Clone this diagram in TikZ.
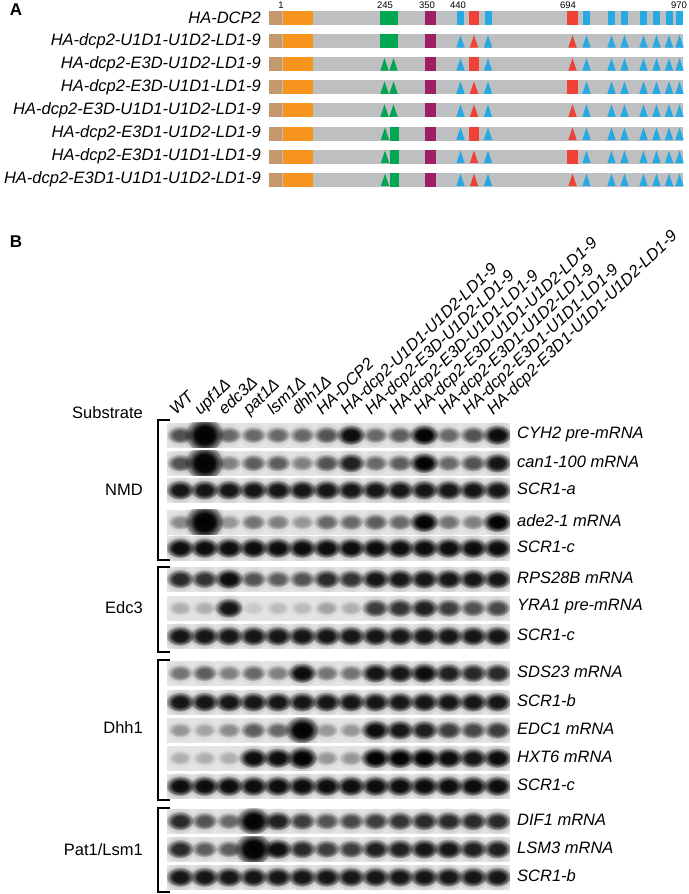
\documentclass[tikz,border=0pt]{standalone}
\usepackage{fontspec}
\setmainfont{Liberation Sans}
\usetikzlibrary{fadings}
\definecolor{domtan}{RGB}{196,152,108}
\definecolor{domorange}{RGB}{247,148,29}
\definecolor{domgray}{RGB}{190,191,193}
\definecolor{domgreen}{RGB}{0,166,81}
\definecolor{dommagenta}{RGB}{158,31,99}
\definecolor{domblue}{RGB}{39,170,225}
\definecolor{domred}{RGB}{239,65,54}
\definecolor{blotbg}{RGB}{228,228,228}

% soft fading for the blot bands (white = opaque, fitted 2cm box)
\pgfdeclareradialshading{bandshade}{\pgfpoint{0bp}{0bp}}{rgb(0bp)=(1,1,1); rgb(13bp)=(0.95,0.95,0.95); rgb(21bp)=(0.4,0.4,0.4); rgb(28bp)=(0,0,0); rgb(50bp)=(0,0,0)}
\pgfdeclarefading{bandfade}{\pgfuseshading{bandshade}}

% site marks on the domain bars: x, y, colour
\newcommand{\sitetri}[3]{\fill[#3] ({#1-4.2},{#2+6.5}) -- ({#1+4.2},{#2+6.5}) -- (#1,{#2-6}) -- cycle;}
\newcommand{\sitebox}[4]{\fill[#4] ({#1-#3/2},{#2-7}) rectangle ({#1+#3/2},{#2+7});}

% one blot band: x, y, value (above 1 = saturated and larger)
\newcommand{\blotband}[3]{%
  \pgfmathsetmacro\bandv{min(1,#3)}%
  \pgfmathsetmacro\bands{max(1,#3)}%
  \pgfmathsetmacro\bandop{0.2*\bandv}%
  \pgfmathsetmacro\bandrx{(13+3*\bandv)*\bands}%
  \pgfmathsetmacro\bandry{(10+4*\bandv)*\bands*\bands}%
  \fill[black, opacity=\bandop, path fading=bandfade] (#1,#2) ellipse [x radius=\bandrx, y radius=\bandry];
  \pgfmathsetmacro\bandrx{(9+3.5*\bandv)*\bands*1.15}%
  \pgfmathsetmacro\bandry{(6+4*\bandv)*\bands*\bands}%
  \fill[black, opacity=\bandv, path fading=bandfade] (#1,#2) ellipse [x radius=\bandrx, y radius=\bandry];
}

% one blot strip: name, y, label, band values for the 14 lanes
\newcommand{\blotrow}[4]{%
  \fill[blotbg] (167,{#2-12.5}) rectangle (510,{#2+12.5});
  \begin{scope}
    \clip (167,{#2-12.5}) rectangle (510,{#2+12.5});
    \foreach \v [count=\i] in {#4} {
      \pgfmathsetmacro\xx{180+(\i-1)*24.4}
      \blotband{\xx}{#2}{\v}
    }
  \end{scope}
  \node[genelabel] (#1) at (517,{#2-1}) {#3};
}

\begin{document}
\begin{tikzpicture}[x=1pt, y=-1pt,
    panellabel/.style={font=\fontsize{17}{19}\selectfont\bfseries, inner sep=0pt},
    construct/.style={anchor=east, inner sep=0pt, font=\fontsize{16.5}{18}\selectfont\itshape},
    poslabel/.style={inner sep=0pt, font=\fontsize{9.5}{10}\selectfont},
    lanelabel/.style={anchor=base west, rotate=44, inner sep=0pt, font=\fontsize{16.5}{18}\selectfont\itshape},
    genelabel/.style={anchor=west, inner sep=0pt, font=\fontsize{16.5}{18}\selectfont\itshape},
    grouplabel/.style={anchor=east, inner sep=0pt, font=\fontsize{16.5}{18}\selectfont},
    bracket/.style={line width=1.3pt}
]
\useasboundingbox (0,0) rectangle (688,894);

% Panel A: domain maps
\node[panellabel] (pa) at (16,10) {A};

\node[poslabel] (p1) at (281,5) {1};
\node[poslabel] (p245) at (385,5) {245};
\node[poslabel] (p350) at (427,5) {350};
\node[poslabel] (p440) at (458,5) {440};
\node[poslabel] (p694) at (568,5) {694};
\node[poslabel] (p970) at (679,5) {970};

\foreach \lbl/\g/\ua/\ub/\ld [count=\r] in {
    HA-DCP2/0/0/0/0,
    HA-dcp2-U1D1-U1D2-LD1-9/0/1/1/1,
    HA-dcp2-E3D-U1D2-LD1-9/1/0/1/1,
    HA-dcp2-E3D-U1D1-LD1-9/1/1/0/1,
    HA-dcp2-E3D-U1D1-U1D2-LD1-9/1/1/1/1,
    HA-dcp2-E3D1-U1D2-LD1-9/2/0/1/1,
    HA-dcp2-E3D1-U1D1-LD1-9/2/1/0/1,
    HA-dcp2-E3D1-U1D1-U1D2-LD1-9/2/1/1/1}
{
  \pgfmathsetmacro\yy{18+(\r-1)*23.1}
  \node[construct] (a\r) at (261,\yy) {\lbl};
  \fill[domgray] (269,{\yy-7}) rectangle (683,{\yy+7});
  \fill[domtan] (269,{\yy-7}) rectangle (281.5,{\yy+7});
  \fill[domorange] (282.5,{\yy-7}) rectangle (313,{\yy+7});
  \fill[dommagenta] (425,{\yy-7}) rectangle (436,{\yy+7});
  % E3 motif
  \ifnum\g=0 \sitebox{389}{\yy}{18}{domgreen}\fi
  \ifnum\g=1 \sitetri{384.5}{\yy}{domgreen}\sitetri{393.5}{\yy}{domgreen}\fi
  \ifnum\g=2 \sitetri{385}{\yy}{domgreen}\sitebox{394}{\yy}{9}{domgreen}\fi
  % U1D1 and U1D2
  \ifnum\ua=0 \sitebox{474}{\yy}{10}{domred}\else \sitetri{474}{\yy}{domred}\fi
  \ifnum\ub=0 \sitebox{572.5}{\yy}{11}{domred}\else \sitetri{572.5}{\yy}{domred}\fi
  % LD1-9
  \foreach \bx in {460.5,488,586.5,611.5,624.5,643.5,656.5,669,679.5} {
    \ifnum\ld=0 \sitebox{\bx}{\yy}{7}{domblue}\else \sitetri{\bx}{\yy}{domblue}\fi
  }
}

% Panel B: northern blots
\node[panellabel] (pb) at (16,242) {B};

\foreach \name [count=\i] in {WT,upf1Δ,edc3Δ,pat1Δ,lsm1Δ,dhh1Δ,HA-DCP2,
    HA-dcp2-U1D1-U1D2-LD1-9,HA-dcp2-E3D-U1D2-LD1-9,HA-dcp2-E3D-U1D1-LD1-9,
    HA-dcp2-E3D-U1D1-U1D2-LD1-9,HA-dcp2-E3D1-U1D2-LD1-9,HA-dcp2-E3D1-U1D1-LD1-9,
    HA-dcp2-E3D1-U1D1-U1D2-LD1-9}
  \node[lanelabel] (l\i) at ({176+(\i-1)*24.4},416) {\name};

\node[grouplabel] (sub) at (143,413) {Substrate};

% NMD
\blotrow{cyh}{435}{CYH2 pre-mRNA}{.6,1.3,.5,.5,.5,.5,.6,.95,.5,.55,1,.5,.6,.95}
\blotrow{can}{463}{can1-100 mRNA}{.6,1.3,.4,.55,.55,.4,.6,.85,.5,.55,1,.5,.6,.9}
\blotrow{scra}{490}{SCR1-a}{.9,.9,.9,.9,.9,.9,.9,.9,.9,.9,.9,.9,.9,.9}
\blotrow{ade}{522}{ade2-1 mRNA}{.35,1.3,.3,.45,.4,.3,.5,.5,.55,.5,1,.45,.4,1}
\blotrow{scrc1}{548}{SCR1-c}{.95,.95,.95,.95,.95,.95,.95,.95,.95,.95,.95,.95,.95,.95}
\node[grouplabel] (nmd) at (143,490) {NMD};
\draw[bracket] (170,420) -- (158,420) -- (158,560) -- (170,560);

% Edc3
\blotrow{rps}{579}{RPS28B mRNA}{.8,.75,.95,.6,.55,.6,.8,.75,.9,.9,.9,.9,.9,.9}
\blotrow{yra}{608}{YRA1 pre-mRNA}{.2,.2,.9,.1,.15,.15,.25,.2,.7,.75,.85,.7,.6,.65}
\blotrow{scrc2}{636}{SCR1-c}{.9,.9,.9,.9,.9,.9,.9,.9,.9,.9,.9,.9,.9,.9}
\node[grouplabel] (edc) at (143,608) {Edc3};
\draw[bracket] (170,567) -- (158,567) -- (158,652) -- (170,652);

% Dhh1
\blotrow{sds}{673}{SDS23 mRNA}{.45,.55,.4,.5,.4,.95,.45,.45,.9,.9,.95,.85,.8,.8}
\blotrow{scrb1}{702}{SCR1-b}{.9,.9,.9,.9,.9,.9,.9,.9,.9,.9,.9,.9,.9,.9}
\blotrow{edcone}{730}{EDC1 mRNA}{.3,.25,.35,.55,.5,1.15,.3,.3,.95,.9,.85,.7,.65,.7}
\blotrow{hxt}{758}{HXT6 mRNA}{.2,.2,.2,.95,.95,1.05,.3,.3,1,1,1,.95,.9,.95}
\blotrow{scrc3}{786}{SCR1-c}{.95,.95,.95,.95,.95,.95,.95,.95,.95,.95,.95,.95,.95,.95}
\node[grouplabel] (dhh) at (143,728) {Dhh1};
\draw[bracket] (170,660) -- (158,660) -- (158,800) -- (170,800);

% Pat1/Lsm1
\blotrow{dif}{821}{DIF1 mRNA}{.8,.6,.5,1.15,.85,.7,.6,.65,.7,.75,.8,.8,.8,.8}
\blotrow{lsm}{849}{LSM3 mRNA}{.8,.55,.55,1.25,.95,.8,.7,.7,.85,.85,.9,.9,.85,.85}
\blotrow{scrb2}{877}{SCR1-b}{.9,.9,.9,.9,.9,.9,.9,.9,.9,.9,.9,.9,.9,.9}
\node[grouplabel] (pat) at (143,850) {Pat1/Lsm1};
\draw[bracket] (170,808) -- (158,808) -- (158,892) -- (170,892);

\end{tikzpicture}
\end{document}
